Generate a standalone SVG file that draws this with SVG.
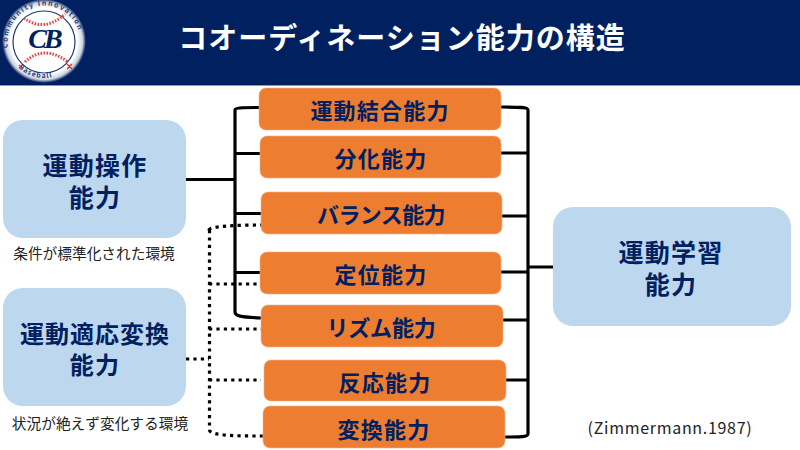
<svg xmlns="http://www.w3.org/2000/svg" width="800" height="450" viewBox="0 0 800 450">
<style>
text{font-family:"Noto Sans CJK JP","Noto Sans",sans-serif}
.o{fill:#ed7d31;stroke:#f4b183;stroke-width:.6}
.b{fill:#bdd7ee}
.ot{font-size:22px;font-weight:700;fill:#002060;text-anchor:middle;letter-spacing:1.2px}
.bt{font-size:25px;font-weight:700;fill:#002060;text-anchor:middle;letter-spacing:1.2px}
.s{font-size:14.700px;fill:#222;text-anchor:middle}
.k{fill:none;stroke:#000;stroke-width:3.2}
.d{fill:none;stroke:#000;stroke-width:3.2;stroke-dasharray:3.2 4.2}
.seam{fill:none;stroke:#e8403a;stroke-width:3;stroke-dasharray:1.5 1.5}
.lt{font-size:7px;font-weight:700;fill:#1d3a78}
</style>
<rect width="800" height="450" fill="#fff"/>
<g id="header">
<rect width="800" height="85" fill="#002060"/>
<rect y="85" width="800" height="1" fill="#8497b8"/>
<text x="402" y="49" font-size="29" font-weight="700" fill="#fff" text-anchor="middle" letter-spacing="1">コオーディネーション能力の構造</text>
</g>
<g id="logo">
<defs>
<radialGradient id="glow"><stop offset=".8" stop-color="#fff"/><stop offset=".92" stop-color="#fff" stop-opacity=".8"/><stop offset="1" stop-color="#fff" stop-opacity="0"/></radialGradient>
<path id="arcT" d="M8 48A36.500 36.500 0 1 1 80 48"/>
<path id="arcB" d="M8 42A36 36 0 0 0 80 42"/>
</defs>
<circle cx="44" cy="41" r="42" fill="url(#glow)"/>
<circle cx="44" cy="42" r="31" fill="#fff" stroke="#1d3a78" stroke-width="1.200"/>
<path class="seam" d="M24 18Q44 33 65 14"/>
<path class="seam" d="M25 62Q44 44 68 62"/>
<text class="lt" letter-spacing="1.500"><textPath href="#arcT">Community Innovation</textPath></text>
<text class="lt" letter-spacing="1"><textPath href="#arcB" startOffset="28">Baseball</textPath></text>
<path d="M67 64l5 5M72 64l-5 5M19 65l4 4" fill="none" stroke="#e02b2b" stroke-width="1.200"/>
<text x="44" y="48" font-size="28" font-style="italic" font-weight="700" fill="#002060" text-anchor="middle" letter-spacing="-3" style="font-family:'Liberation Serif',serif">CB</text>
</g>
<g id="connectors">
<path class="k" d="M186 179.500H235M259 107.500C245 107.500 235 107.500 235 110V312C235 316 240 317 261 318M235 153.500H260M235 213.500H261M235 272.500H260"/>
<path class="k" d="M501 107C520 107 528 107 528 110V434C528 437 520 437 505 437M501 153H528M502 216H528M501 272H528M503 320H528M506 380H528M528 267H553"/>
<path class="d" d="M186 359H209M209 230C209 226 240 225 261 225M209.500 230V430C210 436 240 436 263 436M209 284H260M209 329H261M209 380H261"/>
</g>
<g id="n1"><rect class="o" x="259" y="88" width="242" height="42" rx="7"/><text class="ot" x="380" y="119">運動結合能力</text></g>
<g id="n2"><rect class="o" x="260" y="136" width="241" height="42" rx="7"/><text class="ot" x="381" y="167">分化能力</text></g>
<g id="n3"><rect class="o" x="261" y="192" width="241" height="42" rx="7"/><text class="ot" x="381" y="223" style="letter-spacing:-.6px">バランス能力</text></g>
<g id="n4"><rect class="o" x="260" y="252" width="241" height="42" rx="7"/><text class="ot" x="381" y="283">定位能力</text></g>
<g id="n5"><rect class="o" x="261" y="305" width="242" height="42" rx="7"/><text class="ot" x="381" y="336" style="letter-spacing:-.2px">リズム能力</text></g>
<g id="n6"><rect class="o" x="264" y="360" width="242" height="41" rx="7"/><text class="ot" x="385" y="391">反応能力</text></g>
<g id="n7"><rect class="o" x="263" y="406" width="242" height="42" rx="7"/><text class="ot" x="384" y="438">変換能力</text></g>
<g id="a"><rect class="b" x="3" y="120" width="183" height="118" rx="20"/><text class="bt" x="95" y="175">運動操作</text><text class="bt" x="95" y="207">能力</text></g>
<g id="b"><rect class="b" x="3" y="288" width="183" height="118" rx="20"/><text class="bt" x="95" y="343" style="font-size:24px;letter-spacing:1px">運動適応変換</text><text class="bt" x="95" y="374" style="font-size:24px">能力</text></g>
<g id="c"><rect class="b" x="553" y="207" width="238" height="119" rx="20"/><text class="bt" x="671" y="262">運動学習</text><text class="bt" x="671" y="294">能力</text></g>
<text class="s" x="94" y="259">条件が標準化された環境</text>
<text class="s" x="100" y="429">状況が絶えず変化する環境</text>
<text x="670" y="434" font-size="16" fill="#222" text-anchor="middle" letter-spacing=".7">(Zimmermann.1987)</text>
</svg>
